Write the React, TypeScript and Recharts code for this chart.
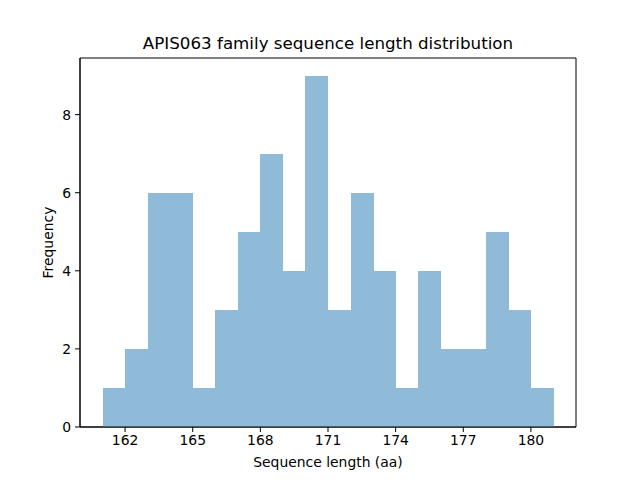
import { Bar, BarChart, ReferenceArea, XAxis, YAxis } from "recharts"

// histogram bins (width 1 aa) and counts
const binStarts = [161, 162, 163, 164, 165, 166, 167, 168, 169, 170, 171, 172, 173, 174, 175, 176, 177, 178, 179, 180]
const counts = [1, 2, 6, 6, 1, 3, 5, 7, 4, 9, 3, 6, 4, 1, 4, 2, 2, 5, 3, 1]
const xTicks = [162, 165, 168, 171, 174, 177, 180]
const yTicks = [0, 2, 4, 6, 8]

const data = binStarts.map((start, i) => ({ mid: start + 0.5, count: counts[i] }))

const font = "DejaVu Sans, sans-serif"

export default function App() {
  return (
    <div style={{ width: 640, height: 480, background: "#fff", fontFamily: font }}>
      <style>{"body{margin:0}"}</style>
      <BarChart
        width={640}
        height={480}
        data={data}
        margin={{ top: 58, right: 64, left: 0, bottom: 13 }}
        barCategoryGap={0}
        barGap={0}
      >
        <XAxis
          dataKey="mid"
          type="number"
          domain={[160, 182]}
          ticks={xTicks}
          allowDataOverflow
          height={40}
          tickSize={5}
          tickMargin={3}
          stroke="#000"
          tick={{ fill: "#000", fontSize: 13.9, fontFamily: font }}
          tickLine={{ stroke: "#000", strokeWidth: 1 }}
          label={() => (
            <text x={328} y={467} textAnchor="middle" fontSize={13.9} fontFamily={font} fill="#000">
              Sequence length (aa)
            </text>
          )}
        />
        <YAxis
          type="number"
          domain={[0, 9.45]}
          ticks={yTicks}
          allowDataOverflow
          width={80}
          tickSize={5}
          tickMargin={4}
          stroke="#000"
          tick={{ fill: "#000", fontSize: 13.9, fontFamily: font }}
          tickLine={{ stroke: "#000", strokeWidth: 1 }}
          label={() => (
            <text
              x={53}
              y={242.5}
              transform="rotate(-90 53 242.5)"
              textAnchor="middle"
              fontSize={13.9}
              fontFamily={font}
              fill="#000"
            >
              Frequency
            </text>
          )}
        />
        {/* #1f77b4 at alpha 0.5 over white, drawn opaque so adjacent bins show no seams */}
        <Bar dataKey="count" fill="#8fbbd9" shapeRendering="crispEdges" isAnimationActive={false} />
        <ReferenceArea x1={160} x2={182} y1={0} y2={9.45} fill="none" stroke="#000" strokeWidth={1} ifOverflow="visible" />
        <text x={328} y={49} textAnchor="middle" fontSize={16.7} fontFamily={font} fill="#000">
          APIS063 family sequence length distribution
        </text>
      </BarChart>
    </div>
  )
}
